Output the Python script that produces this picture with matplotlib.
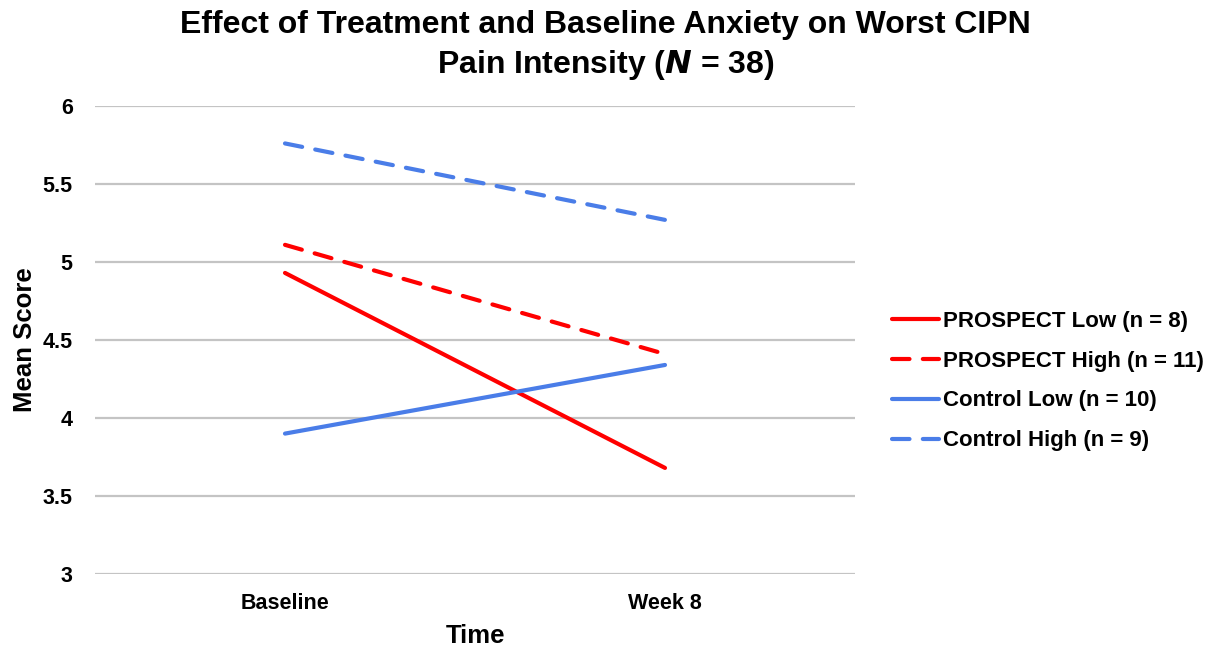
import matplotlib
matplotlib.use("Agg")
import matplotlib.pyplot as plt

plt.rcParams['font.family'] = ['Liberation Sans', 'DejaVu Sans']
plt.rcParams['font.weight'] = 'bold'

time_points = ["Baseline", "Week 8"]
prospect_low = [4.93, 3.68]
prospect_high = [5.11, 4.41]
control_low = [3.90, 4.34]
control_high = [5.76, 5.27]
series_labels = ["PROSPECT Low (n = 8)", "PROSPECT High (n = 11)",
                 "Control Low (n = 10)", "Control High (n = 9)"]
y_ticks = [3, 3.5, 4, 4.5, 5, 5.5, 6]
y_tick_labels = ["3", "3.5", "4", "4.5", "5", "5.5", "6"]

RED = "#ff0000"
BLUE = "#4a7de8"
DASH = (4.2, 3.2)

fig = plt.figure(figsize=(12.19, 6.51), dpi=100)
ax = fig.add_axes([95 / 1219, 1 - 574 / 651, 760 / 1219, (574 - 106) / 651])

x = list(range(len(time_points)))
styles = [
    (prospect_low, RED, None),
    (prospect_high, RED, DASH),
    (control_low, BLUE, None),
    (control_high, BLUE, DASH),
]
handles = []
for (vals, color, dash), label in zip(styles, series_labels):
    line, = ax.plot(x, vals, color=color, linewidth=3, solid_capstyle='round',
                    dash_capstyle='round', label=label, zorder=3)
    if dash:
        line.set_dashes(dash)
    handles.append(line)

ax.set_xlim(-0.5, 1.5)
ax.set_ylim(3, 6)
ax.set_yticks(y_ticks)
ax.set_yticklabels(y_tick_labels)
ax.set_xticks(x)
ax.set_xticklabels(time_points)
ax.tick_params(axis='both', length=0, labelsize=15.5)
ax.tick_params(axis='x', pad=14)
ax.tick_params(axis='y', pad=16)
ax.yaxis.grid(True, color="#c4c4c4", linewidth=1.6)
ax.set_axisbelow(True)
for s in ax.spines.values():
    s.set_visible(False)

ax.set_xlabel("Time", fontsize=18.5, fontweight='bold', va='center')
ax.set_ylabel("Mean Score", fontsize=18.5, fontweight='bold', va='center')
ax.xaxis.set_label_coords(0.5, (574 - 636) / 468)
ax.yaxis.set_label_coords((25 - 95) / 760, 0.5)

fig.text(0.497, 0.962, "Effect of Treatment and Baseline Anxiety on Worst CIPN",
         ha='center', va='center', fontsize=23, fontweight='bold')
fig.text(0.497, 0.900, r"Pain Intensity ($\boldsymbol{N}$ = 38)",
         ha='center', va='center', fontsize=23, fontweight='bold')

leg = fig.legend(handles=handles, loc='center left',
                 bbox_to_anchor=(872 / 1219, 1 - 381 / 651),
                 frameon=False, fontsize=16, handlelength=2.1,
                 handletextpad=0.2, labelspacing=0.85)

fig.savefig("out.png", dpi=100)
